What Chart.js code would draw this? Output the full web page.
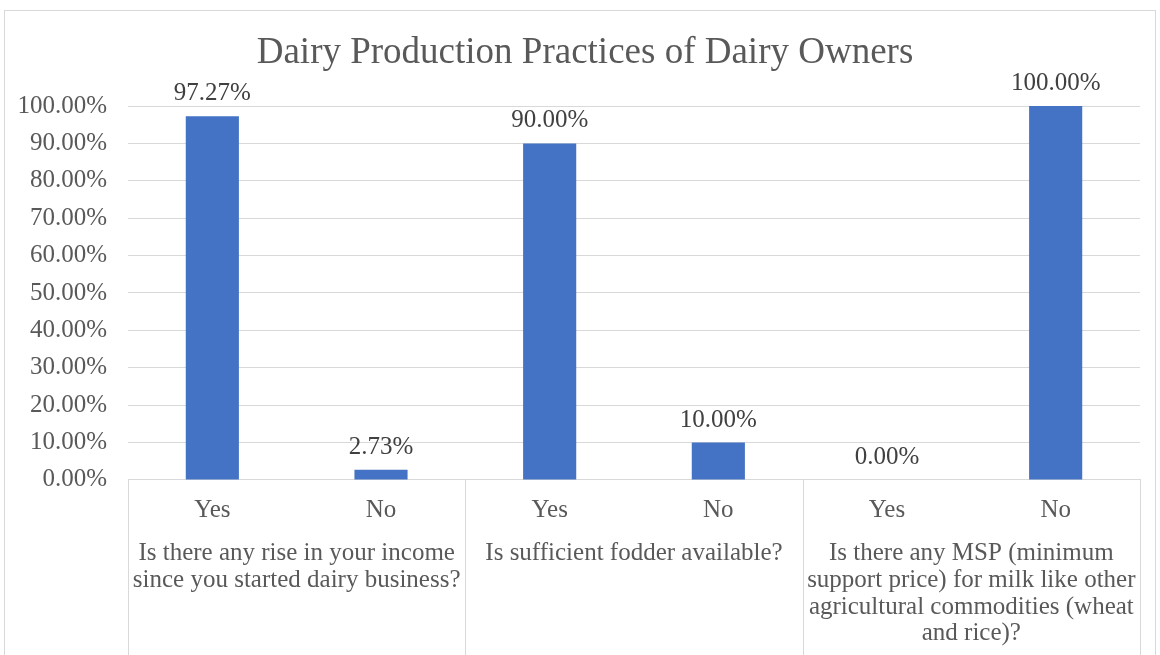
<!DOCTYPE html>
<html>
<head>
<meta charset="utf-8">
<title>Dairy Production Practices of Dairy Owners</title>
<script src="https://cdn.jsdelivr.net/npm/chart.js@4.4.1/dist/chart.umd.min.js"></script>
<style>
    html, body { margin: 0; padding: 0; background: #fff; overflow: hidden; }
    #wrap { position: relative; width: 1160px; height: 655px; }
</style>
</head>
<body>
<div id="wrap"><canvas id="mainChart"></canvas></div>
<script>
// --- DADOS ---
const chartTitle = 'Dairy Production Practices of Dairy Owners';
const answers = ['Yes', 'No', 'Yes', 'No', 'Yes', 'No'];
const questions = [
    ['Is there any rise in your income', 'since you started dairy business?'],
    ['Is sufficient fodder available?'],
    ['Is there any MSP (minimum', 'support price) for milk like other', 'agricultural commodities (wheat', 'and rice)?']
];
const percentages = [97.27, 2.73, 90.00, 10.00, 0.00, 100.00];

const SERIF = '"Liberation Serif", "Times New Roman", serif';
const TEXT = '#595959';
const LINE = '#d9d9d9';
const BAR = '#4472C4';

// moldura cinzenta e título centrado na moldura
const framePlugin = {
    id: 'frame',
    beforeDraw(chart) {
        const c = chart.ctx;
        c.save();
        c.strokeStyle = LINE;
        c.lineWidth = 1;
        c.strokeRect(4.5, 10.5, 1151, 700);
        c.font = '37px ' + SERIF;
        c.fillStyle = TEXT;
        c.textAlign = 'center';
        c.textBaseline = 'middle';
        c.fillText(chartTitle, chart.width / 2 + 5, 53);
        c.restore();
    }
};

// rótulos com o valor de cada barra
const valueLabelsPlugin = {
    id: 'valueLabels',
    afterDatasetsDraw(chart) {
        const c = chart.ctx;
        const meta = chart.getDatasetMeta(0);
        c.save();
        c.font = '25px ' + SERIF;
        c.fillStyle = '#404040';
        c.textAlign = 'center';
        c.textBaseline = 'bottom';
        meta.data.forEach((bar, i) => {
            c.fillText(percentages[i].toFixed(2) + '%', bar.x, bar.y - 10);
        });
        c.restore();
    }
};

// linhas verticais que separam as perguntas no eixo X
const groupDividersPlugin = {
    id: 'groupDividers',
    afterDraw(chart) {
        const x = chart.scales.x;
        const perGroup = answers.length / questions.length;
        const step = x.width / answers.length;
        const c = chart.ctx;
        c.save();
        c.strokeStyle = LINE;
        c.lineWidth = 1;
        for (let g = 0; g <= questions.length; g++) {
            const px = Math.round(x.left + g * perGroup * step) + 0.5;
            c.beginPath();
            c.moveTo(px, chart.chartArea.bottom);
            c.lineTo(px, chart.height);
            c.stroke();
        }
        c.restore();
    }
};

const ctx = document.getElementById('mainChart').getContext('2d');
const mainChart = new Chart(ctx, {
    type: 'bar',
    data: {
        labels: answers,
        datasets: [{
            data: percentages,
            backgroundColor: BAR,
            barPercentage: 0.315,
            categoryPercentage: 1
        }]
    },
    options: {
        responsive: true,
        maintainAspectRatio: false,
        animation: false,
        layout: { padding: { left: 0, right: 20, top: 106, bottom: 9 } },
        plugins: {
            legend: { display: false },
            tooltip: { enabled: false },
            title: { display: false }
        },
        scales: {
            y: {
                min: 0,
                max: 100,
                afterFit: scale => { scale.width = 128; },
                ticks: {
                    stepSize: 10,
                    color: TEXT,
                    padding: 21,
                    font: { family: SERIF, size: 25 },
                    callback: v => v.toFixed(2) + '%'
                },
                grid: { color: LINE, drawTicks: false },
                border: { display: false }
            },
            x: {
                ticks: {
                    color: TEXT,
                    padding: 17,
                    font: { family: SERIF, size: 25, lineHeight: 1.1 },
                    maxRotation: 0,
                    autoSkip: false
                },
                grid: { display: false, drawTicks: false },
                border: { display: true, color: LINE }
            },
            x2: {
                type: 'category',
                position: 'bottom',
                labels: questions,
                offset: true,
                ticks: {
                    color: TEXT,
                    padding: -1,
                    font: { family: SERIF, size: 25, lineHeight: 1.066 },
                    maxRotation: 0,
                    autoSkip: false
                },
                grid: { display: false, drawTicks: false },
                border: { display: false }
            }
        }
    },
    plugins: [framePlugin, valueLabelsPlugin, groupDividersPlugin]
});
</script>
</body>
</html>
